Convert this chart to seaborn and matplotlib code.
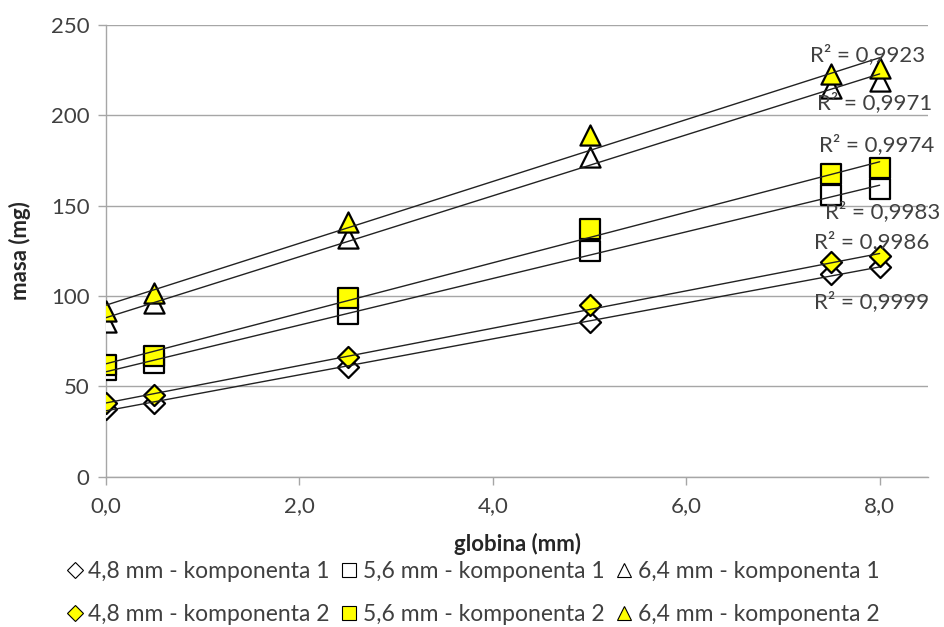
import matplotlib
matplotlib.use("Agg")
import matplotlib.pyplot as plt
import seaborn as sns
import numpy as np
import pandas as pd

sns.set_theme(style="white")
plt.rcParams['font.family'] = ['Lato', 'DejaVu Sans']

depth = [0.0, 0.5, 2.5, 5.0, 7.5, 8.0]
d48_k1 = [37.7, 41.0, 60.5, 85.5, 112.0, 116.0]
d48_k2 = [41.0, 45.0, 66.5, 94.8, 118.6, 122.0]
d56_k1 = [58.8, 63.0, 90.0, 125.0, 156.0, 159.0]
d56_k2 = [62.0, 67.0, 99.0, 137.0, 167.4, 171.0]
d64_k1 = [85.4, 96.0, 132.0, 177.0, 215.0, 219.0]
d64_k2 = [91.5, 101.4, 141.0, 189.0, 223.0, 226.0]

labels = ["4,8 mm - komponenta 1", "5,6 mm - komponenta 1", "6,4 mm - komponenta 1",
          "4,8 mm - komponenta 2", "5,6 mm - komponenta 2", "6,4 mm - komponenta 2"]
r2_texts = ["R² = 0,9999", "R² = 0,9983", "R² = 0,9971",
            "R² = 0,9986", "R² = 0,9974", "R² = 0,9923"]
r2_pos = [(7.92, 96.7), (8.03, 146.5), (7.95, 206.8),
          (7.92, 129.9), (7.97, 183.6), (7.88, 233.6)]

series = [d48_k1, d56_k1, d64_k1, d48_k2, d56_k2, d64_k2]
markers = ['D', 's', '^', 'D', 's', '^']
sizes = [115, 200, 210, 115, 200, 210]
faces = ['white'] * 3 + ['#ffff00'] * 3

fig = plt.figure(figsize=(9.44, 6.27), dpi=100)
ax = fig.add_axes([106/944, 1-476.7/627, (928-106)/944, (476.7-25)/627])

handles = []
for i, ys in enumerate(series):
    df = pd.DataFrame({"x": depth, "y": ys})
    sns.scatterplot(data=df, x="x", y="y", marker=markers[i], s=sizes[i],
                    color=faces[i], edgecolor='black', linewidth=1.6, ax=ax, zorder=3)
    h = plt.Line2D([], [], marker=markers[i], linestyle='none',
                   markersize=10 if markers[i] != 'D' else 8,
                   markerfacecolor=faces[i], markeredgecolor='black', markeredgewidth=0.8)
    handles.append(h)

for i, ys in enumerate(series):
    df = pd.DataFrame({"x": depth, "y": ys})
    sns.regplot(data=df, x="x", y="y", scatter=False, ci=None, ax=ax,
                line_kws=dict(color='#222222', lw=1.0, zorder=4))

for t, (x, y) in zip(r2_texts, r2_pos):
    ax.text(x, y, t, ha='center', va='center', fontsize=16, color='#404040', zorder=5)

ax.set_xlim(0, 8.5)
ax.set_ylim(0, 250)
ax.set_xticks([0, 2, 4, 6, 8])
ax.set_xticklabels(["0,0", "2,0", "4,0", "6,0", "8,0"])
ax.set_yticks([0, 50, 100, 150, 200, 250])
ax.set_yticklabels(["0", "50", "100", "150", "200", "250"])
ax.yaxis.grid(True, color='#a6a6a6', lw=1.0)
ax.xaxis.grid(False)
for s in ['top', 'right']:
    ax.spines[s].set_visible(False)
for s in ['left', 'bottom']:
    ax.spines[s].set_color('#a6a6a6')
    ax.spines[s].set_linewidth(1.0)
ax.tick_params(axis='both', which='both', direction='out', length=6, width=1.0,
               color='#a6a6a6', labelsize=16, labelcolor='#404040', pad=6)
ax.tick_params(axis='y', left=True)
ax.tick_params(axis='x', bottom=True, pad=8)
ax.set_xlabel("globina (mm)", fontsize=16, fontweight='bold', color='#262626', labelpad=12)
ax.set_ylabel("masa (mg)", fontsize=16, fontweight='bold', color='#262626', labelpad=14)

order = [0, 3, 1, 4, 2, 5]
fig.legend([handles[i] for i in order], [labels[i] for i in order], loc='lower center',
           bbox_to_anchor=(0.5, -0.03), ncol=3, frameon=False, fontsize=16.5,
           handletextpad=0.15, columnspacing=0.4, labelspacing=0.95, handlelength=0.9,
           labelcolor='#404040')

fig.savefig("out.png", dpi=100)
